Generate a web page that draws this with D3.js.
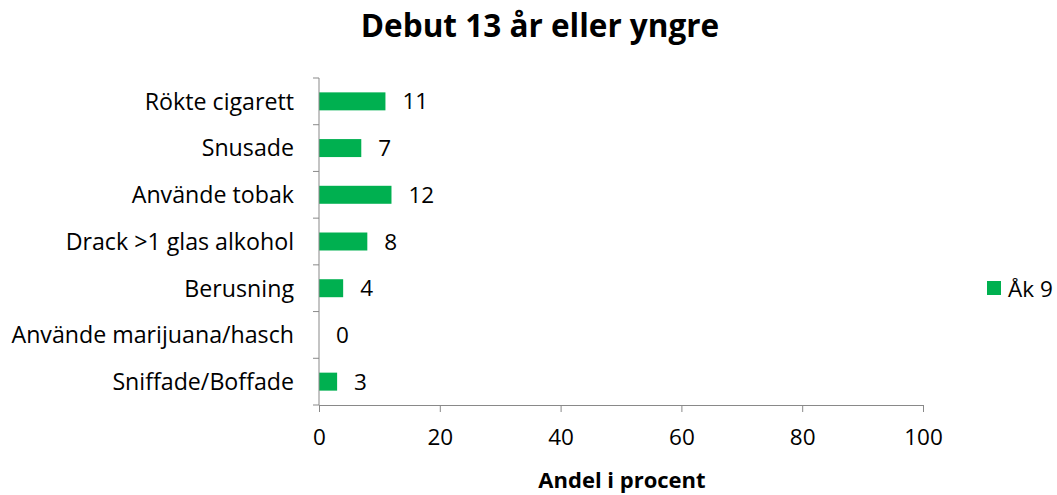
<!DOCTYPE html>
<html><head><meta charset="utf-8">
<script src="https://cdn.jsdelivr.net/npm/d3@7"></script>
<style>body{margin:0;background:#fff}svg{display:block}text{font-family:"Open Sans",sans-serif;fill:#000}</style>
</head><body>
<svg id="c" width="1057" height="495"></svg>
<script>
const categories = ["Rökte cigarett","Snusade","Använde tobak","Drack >1 glas alkohol","Berusning","Använde marijuana/hasch","Sniffade/Boffade"];
const values = [11,7,12,8,4,0,3];
const xTicks = [0,20,40,60,80,100];
const seriesName = "Åk 9";
const title = "Debut 13 år eller yngre";
const xTitle = "Andel i procent";

const svg = d3.select("#c");
const x = d3.scaleLinear().domain([0,100]).range([319,923]);
const y = d3.scaleBand().domain(categories).range([78,405]).paddingInner(0.615).paddingOuter(0.3075);
const color = "#00B050", axisColor = "#898989";
const font = "'Open Sans',sans-serif";

svg.append("text").attr("x",540).attr("y",37).attr("text-anchor","middle")
  .style("font-size","31.5px").style("font-weight","bold").text(title);

// bars
svg.selectAll("rect.bar").data(values).enter().append("rect")
  .attr("x",x(0)).attr("y",(d,i)=>y(categories[i]))
  .attr("width",d=>x(d)-x(0)).attr("height",y.bandwidth()).attr("fill",color);

// value labels
svg.selectAll("text.val").data(values).enter().append("text")
  .attr("x",d=>x(d)+17).attr("y",(d,i)=>y(categories[i])+y.bandwidth()/2)
  .attr("dy","0.36em").style("font-size","22.5px").text(d=>d);

// y axis
const band = (405-78)/categories.length;
const yAxis = svg.append("g");
yAxis.append("line").attr("x1",x(0)).attr("x2",x(0)).attr("y1",78).attr("y2",405).attr("stroke",axisColor);
d3.range(categories.length+1).forEach(i=>{
  yAxis.append("line").attr("x1",x(0)-6).attr("x2",x(0)).attr("y1",78+i*band).attr("y2",78+i*band).attr("stroke",axisColor);
});
categories.forEach(c=>{
  yAxis.append("text").attr("x",x(0)-25).attr("y",y(c)+y.bandwidth()/2).attr("dy","0.36em")
    .attr("text-anchor","end").style("font-size","23.2px").text(c);
});

// x axis
const xg = svg.append("g").attr("transform","translate(0,405)")
  .call(d3.axisBottom(x).tickValues(xTicks).tickSize(7).tickSizeOuter(0).tickPadding(17));
xg.select(".domain").attr("stroke",axisColor);
xg.selectAll(".tick line").attr("stroke",axisColor);
xg.selectAll(".tick text").style("font-size","22.5px").style("font-family",font).attr("fill","#000");

svg.append("text").attr("x",622).attr("y",488).attr("text-anchor","middle")
  .style("font-size","22px").style("font-weight","bold").text(xTitle);

// legend
svg.append("rect").attr("x",987).attr("y",281).attr("width",14).attr("height",14).attr("fill",color);
svg.append("text").attr("x",1008).attr("y",289).attr("dy","0.36em").style("font-size","22.5px").text(seriesName);
</script>
</body></html>
